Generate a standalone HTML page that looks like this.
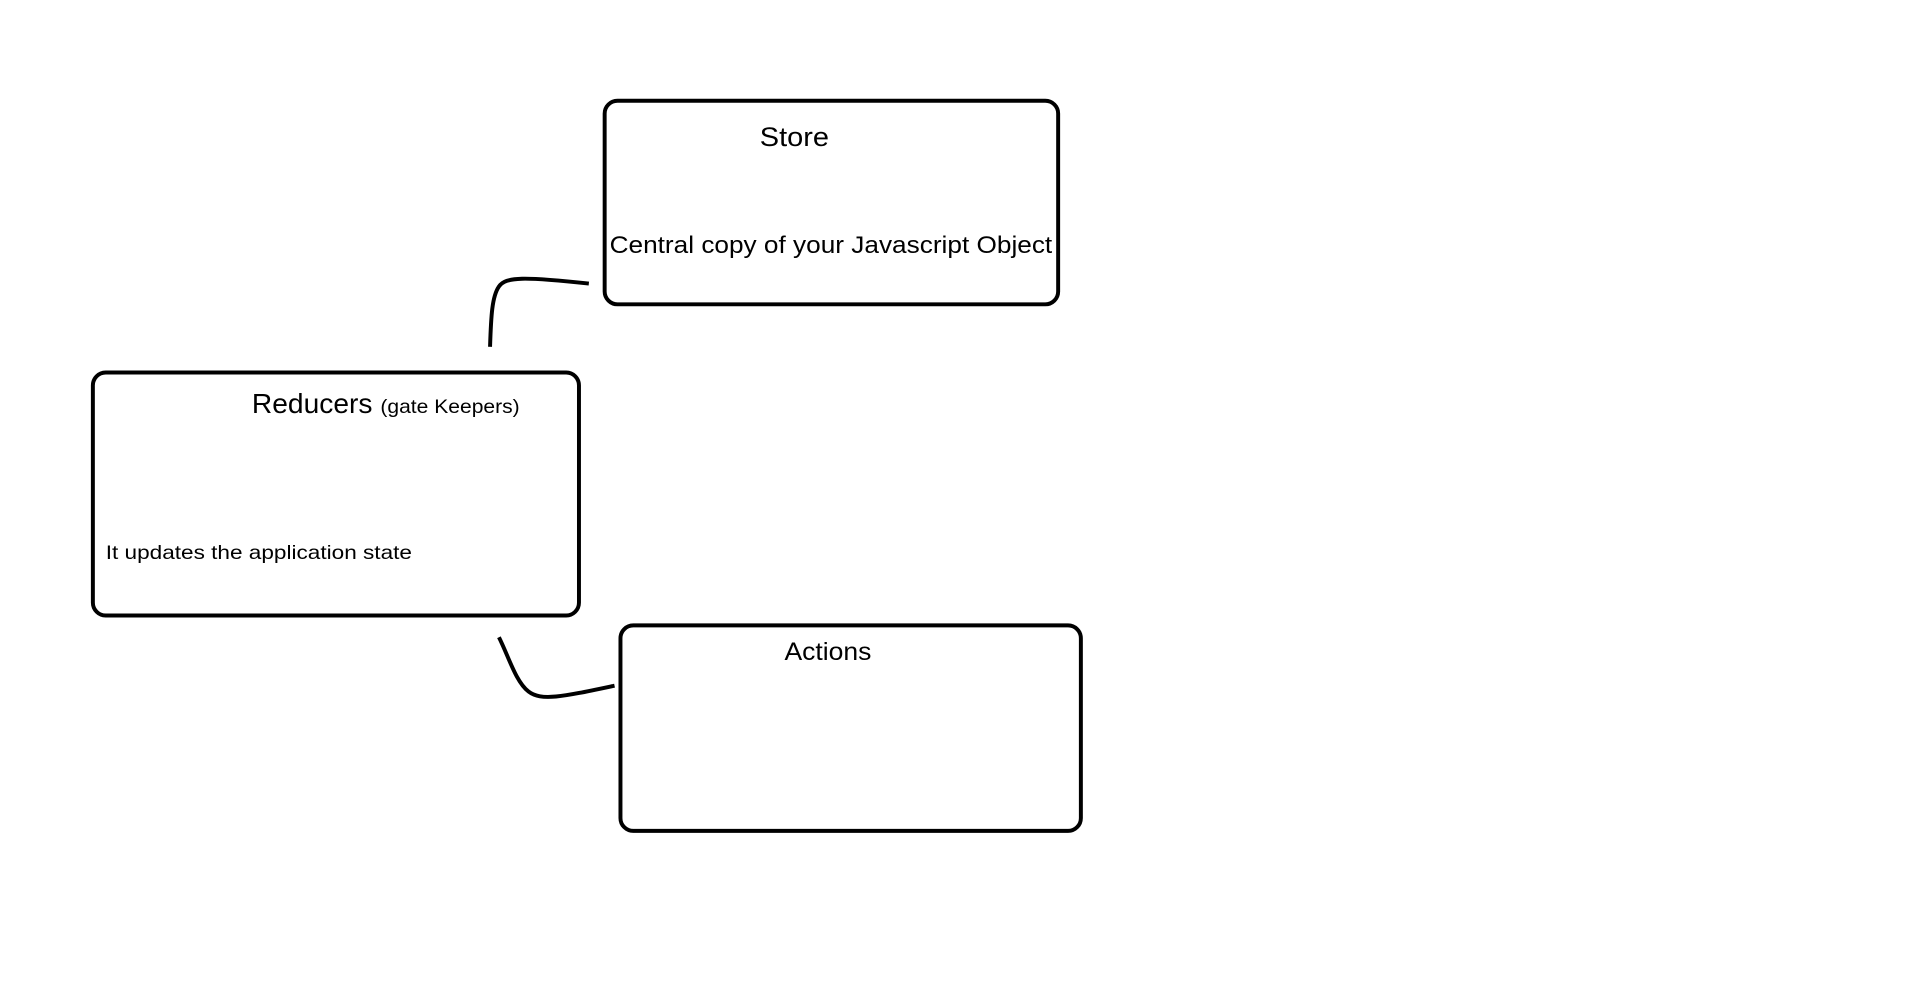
<!DOCTYPE html>
<html><head><meta charset="utf-8"><style>html,body{margin:0;padding:0;background:#fff;}svg{display:block}</style></head>
<body>
<svg width="1908" height="986" viewBox="0 0 1908 986" xmlns="http://www.w3.org/2000/svg" font-family="Liberation Sans, sans-serif" fill="#000">
<rect width="1908" height="986" fill="#fff"/>
<g transform="scale(0.988)">
<g fill="none" stroke="#000" stroke-width="4">
<rect x="612" y="102" width="459" height="206" rx="13"/>
<rect x="94" y="377" width="492" height="246" rx="13"/>
<rect x="628" y="633" width="466" height="208" rx="13"/>
<path d="M496 351 C497 320 498 300 505 290 C512 280 530 280 596 287"/>
<path d="M505 645 C515 665 522 690 535 700 C548 710 570 705 622 694"/>
</g>
<text x="769" y="148" font-size="27" textLength="70" lengthAdjust="spacingAndGlyphs">Store</text>
<text x="617" y="256" font-size="24" textLength="448" lengthAdjust="spacingAndGlyphs">Central copy of your Javascript Object</text>
<text x="255" y="418" font-size="28" textLength="122" lengthAdjust="spacingAndGlyphs">Reducers</text>
<text x="385" y="418" font-size="20" textLength="141" lengthAdjust="spacingAndGlyphs">(gate Keepers)</text>
<text x="107" y="566" font-size="20" textLength="310" lengthAdjust="spacingAndGlyphs">It updates the application state</text>
<text x="794" y="668" font-size="25" textLength="88" lengthAdjust="spacingAndGlyphs">Actions</text>
</g>
</svg>
</body></html>
